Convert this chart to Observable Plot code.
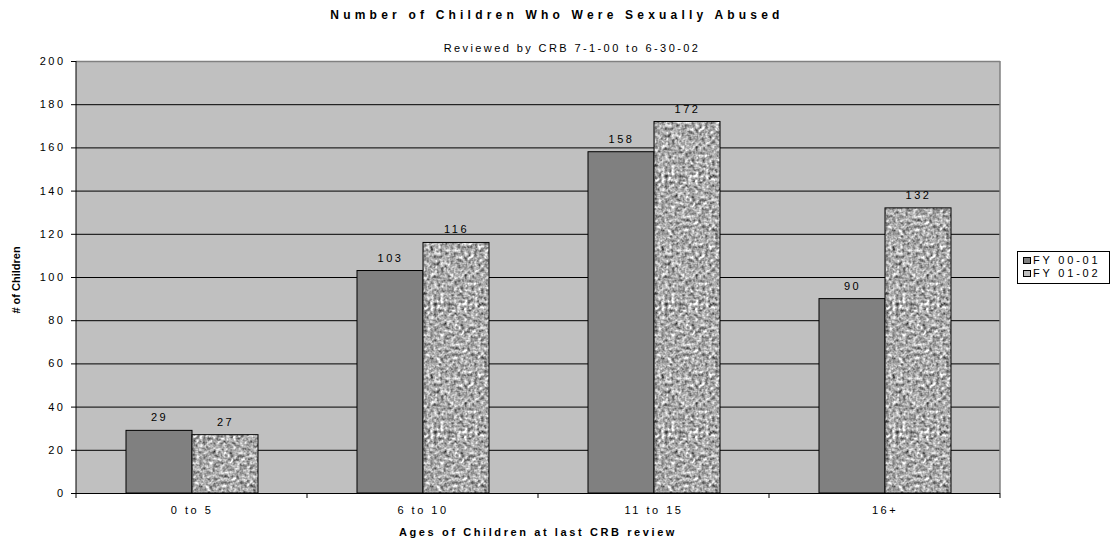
<!DOCTYPE html>
<html><head><meta charset="utf-8">
<script src="https://cdn.jsdelivr.net/npm/d3@7"></script>
<script src="https://cdn.jsdelivr.net/npm/@observablehq/plot@0.6"></script>
<style>
body{margin:0;background:#fff;font-family:"Liberation Sans",Arial,sans-serif;}
#wrap{position:relative;width:1117px;height:538px;overflow:hidden;}
.t{position:absolute;white-space:nowrap;color:#000;line-height:1;}
#legend{position:absolute;left:1017px;top:251px;width:91px;height:31px;border:1px solid #000;background:#fff;font-size:11px;letter-spacing:2.8px;}
#legend .row{position:absolute;left:5px;height:12px;line-height:12px;white-space:nowrap;}
#legend .sw{display:inline-block;width:6px;height:5px;border:1px solid #000;margin-right:2px;vertical-align:0px;}
</style></head><body><div id="wrap"></div>
<script>
const categories = ["0 to 5", "6 to 10", "11 to 15", "16+"];
const seriesNames = ["FY 00-01", "FY 01-02"];
const fy0001 = [29, 103, 158, 90];
const fy0102 = [27, 116, 172, 132];
const yTicks = [0, 20, 40, 60, 80, 100, 120, 140, 160, 180, 200];
const titleText = "Number of Children Who Were Sexually Abused";
const subtitleText = "Reviewed by CRB 7-1-00 to 6-30-02";
const xLabel = "Ages of Children at last CRB review";
const yLabel = "# of Children";

const data = categories.flatMap((c, i) => [
  {cat: c, series: seriesNames[0], value: fy0001[i]},
  {cat: c, series: seriesNames[1], value: fy0102[i]}
]);

const plot = Plot.plot({
  width: 1117, height: 538,
  marginTop: 61, marginBottom: 45, marginLeft: 75, marginRight: 117,
  style: {fontFamily: "'Liberation Sans', Arial, sans-serif", fontSize: "11px", letterSpacing: "2.5px", color: "#000", background: "transparent", overflow: "visible"},
  fx: {domain: categories, padding: 0, label: null},
  x: {domain: seriesNames, paddingInner: 0, paddingOuter: 0.724, axis: null},
  y: {domain: [0, 200], label: null},
  marks: [
    Plot.gridY(yTicks.filter(t => t > 0 && t < 200), {stroke: "#000", strokeOpacity: 1}),
    Plot.ruleY([200], {stroke: "#808080", strokeWidth: 1.5}),
    Plot.ruleY([0], {stroke: "#000"}),
    Plot.barY(data.filter(d => d.series === seriesNames[0]), {fx: "cat", x: "series", y: "value", fill: "#808080", stroke: "#000", strokeWidth: 1}),
    Plot.barY(data.filter(d => d.series === seriesNames[1]), {fx: "cat", x: "series", y: "value", fill: "url(#granite)", stroke: "#000", strokeWidth: 1}),
    Plot.text(data, {fx: "cat", x: "series", y: "value", text: d => String(d.value), dy: -13, fill: "#000"}),
    Plot.axisY({ticks: yTicks, tickSize: 5, tickPadding: 6, label: null, stroke: "#000"}),
    Plot.axisFx({anchor: "bottom", tickSize: 0, tickPadding: 13, label: null})
  ]
});

const svg = d3.select(plot);
const fx = plot.scale("fx"), y = plot.scale("y");
const y0 = y.apply(0), y1 = y.apply(200);
const left = fx.apply(categories[0]);
const right = fx.apply(categories[categories.length - 1]) + fx.bandwidth;

// single plot-area background behind everything
svg.insert("rect", ":first-child")
  .attr("x", left).attr("y", y1).attr("width", right - left).attr("height", y0 - y1)
  .attr("fill", "#c0c0c0");

// granite texture
svg.insert("defs", ":first-child").html(`
  <filter id="noiseF" x="0" y="0" width="100%" height="100%" color-interpolation-filters="sRGB">
    <feTurbulence type="fractalNoise" baseFrequency="0.3" numOctaves="2" seed="11" stitchTiles="stitch"/>
    <feColorMatrix type="matrix" values="0.33 0.33 0.33 0 0  0.33 0.33 0.33 0 0  0.33 0.33 0.33 0 0  0 0 0 0 1"/>
    <feComponentTransfer>
      <feFuncR type="linear" slope="1.9" intercept="-0.27"/>
      <feFuncG type="linear" slope="1.9" intercept="-0.27"/>
      <feFuncB type="linear" slope="1.9" intercept="-0.27"/>
    </feComponentTransfer>
  </filter>
  <pattern id="granite" patternUnits="userSpaceOnUse" width="128" height="128">
    <rect width="128" height="128" fill="#b0b0b0"/>
    <rect width="128" height="128" filter="url(#noiseF)"/>
  </pattern>`);

const g = svg.append("g");
g.append("line").attr("x1", right).attr("x2", right).attr("y1", y1).attr("y2", y0).attr("stroke", "#808080").attr("stroke-width", 1.5);
g.append("line").attr("x1", left).attr("x2", left).attr("y1", y1).attr("y2", y0 + 5).attr("stroke", "#000");
for (const c of categories) {
  const xb = fx.apply(c) + fx.bandwidth;
  g.append("line").attr("x1", xb).attr("x2", xb).attr("y1", y0).attr("y2", y0 + 5).attr("stroke", "#000");
}

const wrap = document.getElementById("wrap");
wrap.appendChild(plot);
plot.style.position = "absolute"; plot.style.left = "0"; plot.style.top = "0";

function addText(txt, css) {
  const d = document.createElement("div");
  d.className = "t"; d.textContent = txt;
  Object.assign(d.style, css);
  wrap.appendChild(d);
  return d;
}
addText(titleText, {left: "557px", top: "9px", transform: "translateX(-50%)", fontSize: "12px", fontWeight: "bold", letterSpacing: "4.2px"});
addText(subtitleText, {left: "572px", top: "43px", transform: "translateX(-50%)", fontSize: "11px", letterSpacing: "2.4px"});
addText(xLabel, {left: "538px", top: "527px", transform: "translateX(-50%)", fontSize: "11px", fontWeight: "bold", letterSpacing: "2.6px"});
addText(yLabel, {left: "16px", top: "280px", transform: "translate(-50%,-50%) rotate(-90deg)", fontSize: "11px", fontWeight: "bold", letterSpacing: "0px"});

const legend = document.createElement("div");
legend.id = "legend";
seriesNames.forEach((s, i) => {
  const r = document.createElement("div");
  r.className = "row"; r.style.top = (2 + i * 13) + "px";
  const sw = document.createElement("span");
  sw.className = "sw";
  sw.style.background = i === 0 ? "#808080" : "#bdbdbd";
  r.appendChild(sw);
  r.appendChild(document.createTextNode(s));
  legend.appendChild(r);
});
wrap.appendChild(legend);
</script></body></html>
